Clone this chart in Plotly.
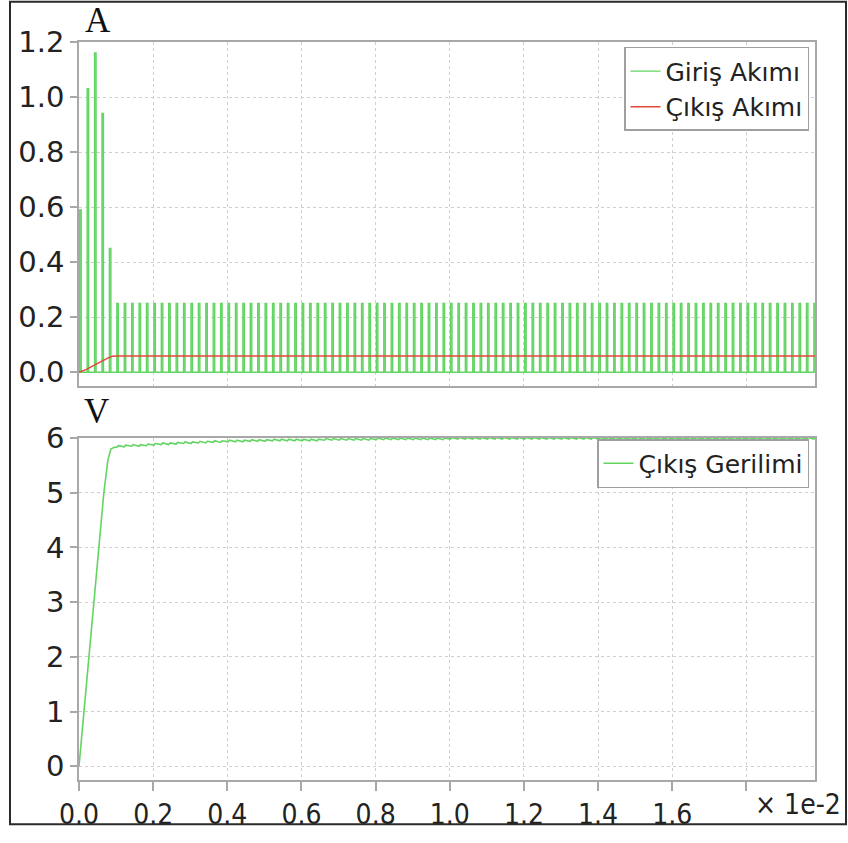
import plotly.graph_objects as go

# ---------------- data (time axis in units of 1e-2 s) ----------------
pulse_start = 0.002          # first switching pulse
pulse_period = 0.02          # switching period
pulse_width = 0.004          # on-time
# input-current pulse peaks (A), one per switching period
pulse_peaks = [0.59, 1.03, 1.16, 0.94, 0.45] + [0.25] * 95

# output current (A)
iout_t = [0.0, 0.02, 0.04, 0.06, 0.08, 0.09, 0.10, 1.985]
iout_v = [0.0, 0.010, 0.025, 0.040, 0.053, 0.058, 0.059, 0.059]

# output voltage (V): start-up ramp
vrise_t = [0.0, 0.0135, 0.028, 0.040, 0.054, 0.067, 0.078, 0.086, 0.095]
vrise_v = [0.0, 1.0, 2.0, 3.0, 4.0, 5.0, 5.6, 5.8, 5.83]
# ripple troughs per switching period after start-up (periods 5..99)
vtrough = ([5.83, 5.84, 5.85, 5.85, 5.86,
            5.87, 5.88, 5.88, 5.89, 5.90,
            5.90, 5.91, 5.91, 5.92, 5.92]
           + [5.93] * 3 + [5.94] * 3 + [5.95] * 7 + [5.96] * 7
           + [5.97] * 10 + [5.98] * 50)
vripple = 0.03

x_ticks = [0.0, 0.2, 0.4, 0.6, 0.8, 1.0, 1.2, 1.4, 1.6, 1.8]
x_ticktext = ["0.0", "0.2", "0.4", "0.6", "0.8", "1.0", "1.2", "1.4", "1.6", ""]
yA_ticks = [0.0, 0.2, 0.4, 0.6, 0.8, 1.0, 1.2]
yA_text = ["0.0", "0.2", "0.4", "0.6", "0.8", "1.0", "1.2"]
yV_ticks = [0, 1, 2, 3, 4, 5, 6]

# ---------------- build waveforms ----------------
gx, gy = [0.0], [0.0]
for k, p in enumerate(pulse_peaks):
    t0 = pulse_start + k * pulse_period
    gx += [t0, t0, t0 + pulse_width, t0 + pulse_width]
    gy += [0.0, p, p, 0.0]
gx.append(1.985); gy.append(0.0)

vx, vy = list(vrise_t), list(vrise_v)
for j, tr in enumerate(vtrough):
    t0 = pulse_start + (j + 5) * pulse_period
    vx += [t0, t0 + pulse_width]
    vy += [tr, tr + vripple]

GREEN = "#62d462"
RED = "#e5473a"

fig = go.Figure()
fig.add_trace(go.Scatter(x=gx, y=gy, mode="lines", name="Giriş Akımı",
                         line=dict(color=GREEN, width=1.4),
                         xaxis="x", yaxis="y", legend="legend"))
fig.add_trace(go.Scatter(x=iout_t, y=iout_v, mode="lines", name="Çıkış Akımı",
                         line=dict(color=RED, width=1.5),
                         xaxis="x", yaxis="y", legend="legend"))
fig.add_trace(go.Scatter(x=vx, y=vy, mode="lines", name="Çıkış Gerilimi",
                         line=dict(color=GREEN, width=1.6),
                         xaxis="x2", yaxis="y2", legend="legend2"))

axis_common = dict(showline=True, linecolor="#a8a8a8", linewidth=1.5, mirror=True,
                   showgrid=True, gridcolor="#cfcfcf", griddash="dot", gridwidth=1,
                   zeroline=False)
tickfont_y = dict(family="DejaVu Sans", size=29, color="#222")
tickfont_x = dict(family="Liberation Sans Narrow, DejaVu Sans Condensed, DejaVu Sans",
                  size=28, color="#222")

L, R, T, B = 79, 33, 42, 50
W, H = 848, 843
pw, ph = W - L - R, H - T - B
def px(x): return (x - L) / pw
def py(y): return (H - B - y) / ph

legend_font = dict(family="DejaVu Sans", size=25, color="#222")

fig.update_layout(
    width=W, height=H, autosize=False,
    margin=dict(l=L, r=R, t=T, b=B),
    plot_bgcolor="white", paper_bgcolor="white",
    xaxis=dict(domain=[0, 1], anchor="y", range=[0, 1.985], tickvals=x_ticks,
               showticklabels=False, ticks="", **axis_common),
    yaxis=dict(domain=[py(392), 1], anchor="x", range=[-0.05, 1.2],
               tickvals=yA_ticks, ticktext=yA_text,
               ticks="outside", ticklen=7, tickcolor="#a8a8a8", tickwidth=1.5,
               tickfont=tickfont_y, **axis_common),
    xaxis2=dict(domain=[0, 1], anchor="y2", range=[0, 1.985], tickvals=x_ticks,
                ticktext=x_ticktext, ticks="outside", ticklen=9, tickcolor="#a8a8a8",
                tickwidth=1.5, tickfont=tickfont_x, **axis_common),
    yaxis2=dict(domain=[0, py(445)], anchor="x2", range=[-0.25, 6.0],
                tickvals=yV_ticks, ticks="outside", ticklen=7, tickcolor="#a8a8a8",
                tickwidth=1.5, tickfont=tickfont_y, **axis_common),
    legend=dict(x=px(809), xanchor="right", y=py(47), yanchor="top",
                bgcolor="white", bordercolor="#a0a0a0", borderwidth=1.5,
                font=legend_font, tracegroupgap=0, itemwidth=30),
    legend2=dict(x=px(809), xanchor="right", y=py(446), yanchor="top",
                 bgcolor="white", bordercolor="#a0a0a0", borderwidth=1.5,
                 font=legend_font, itemwidth=30),
    annotations=[
        dict(text="A", x=px(98), y=py(20), xref="paper", yref="paper",
             showarrow=False, xanchor="center", yanchor="middle",
             font=dict(family="Liberation Serif", size=35, color="#111")),
        dict(text="V", x=px(96), y=py(418), xref="paper", yref="paper",
             showarrow=False, xanchor="center", yanchor="middle",
             font=dict(family="Liberation Serif", size=35, color="#111")),
        dict(text="× 1e-2", x=px(843), y=py(818), xref="paper", yref="paper",
             showarrow=False, xanchor="right", yanchor="middle",
             font=tickfont_x),
    ],
    shapes=[dict(type="rect", xref="paper", yref="paper",
                 x0=px(10), x1=px(846), y0=py(838), y1=py(1),
                 line=dict(color="#2a2a2a", width=2), fillcolor="rgba(0,0,0,0)",
                 layer="above")],
    showlegend=True,
)

fig.write_html("out.html")
